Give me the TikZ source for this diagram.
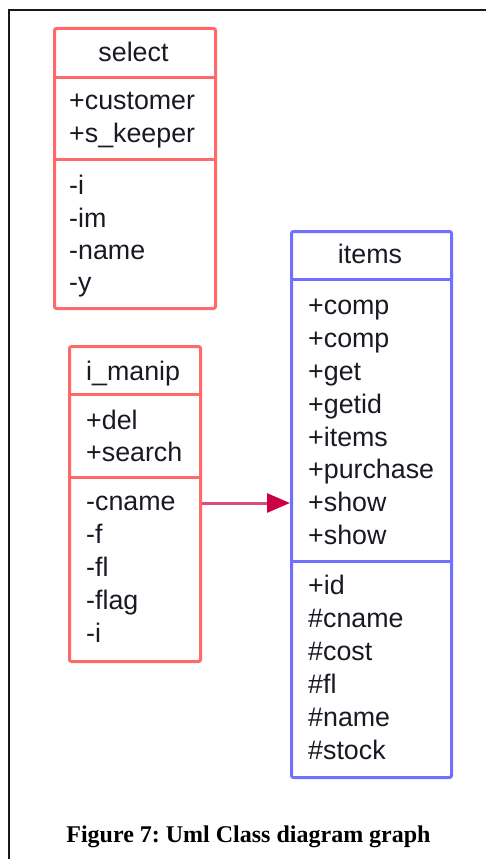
\documentclass[tikz,border=0pt]{standalone}
\usepackage{fontspec}
\setmainfont{Liberation Sans}
\newfontfamily\capfont{Liberation Serif}
\usetikzlibrary{arrows.meta}
\definecolor{boxred}{RGB}{255,105,105}
\definecolor{boxblue}{RGB}{112,112,255}
\definecolor{arrline}{RGB}{214,80,120}
\definecolor{arrhead}{RGB}{204,0,68}
\definecolor{txt}{RGB}{25,25,35}
\frenchspacing
\begin{document}
\begin{tikzpicture}[x=1pt,y=-1pt,
  redbox/.style={draw=boxred,line width=3pt,rounded corners=2pt,inner sep=0pt,anchor=north west},
  bluebox/.style={draw=boxblue,line width=3pt,rounded corners=2pt,inner sep=0pt,anchor=north west},
  redsep/.style={draw=boxred,line width=3pt},
  bluesep/.style={draw=boxblue,line width=3pt},
  member/.style={anchor=base west,yshift=-7pt,inner sep=0pt,text=txt,font=\fontsize{26.8}{30}\selectfont},
  title/.style={anchor=base,yshift=-7pt,inner sep=0pt,text=txt,font=\fontsize{26.8}{30}\selectfont},
  assoc/.style={draw=arrline,line width=3pt,-{Triangle[length=23pt,width=19pt,color=arrhead]}}
]
\useasboundingbox (0,0) rectangle (485,859);
% outer frame (cut by the image edges)
\draw[line width=2.2pt,black!90] (9,870) -- (9,10) -- (495,10);

% ---- select ----
\node[redbox,minimum width=161pt,minimum height=280pt] (select) at (53,27) {};
\draw[redsep] (53,77) -- (214,77);
\draw[redsep] (53,159) -- (214,159);
\node[title] (selT) at (133.5,55) {select};
\node[member] (s1) at (69,102) {+customer};
\node[member] (s2) at (69,135) {+s\_keeper};
\node[member] (s3) at (69,187) {-i};
\node[member] (s4) at (69,220) {-im};
\node[member] (s5) at (69,252) {-name};
\node[member] (s6) at (69,284) {-y};

% ---- i_manip ----
\node[redbox,minimum width=131pt,minimum height=315pt] (imanip) at (68,345) {};
\draw[redsep] (68,394) -- (199,394);
\draw[redsep] (68,477) -- (199,477);
\node[member] (mT) at (86,373) {i\_manip};
\node[member] (m1) at (86,422) {+del};
\node[member] (m2) at (86,454) {+search};
\node[member] (m3) at (86,503) {-cname};
\node[member] (m4) at (86,536) {-f};
\node[member] (m5) at (86,569) {-fl};
\node[member] (m6) at (86,602) {-flag};
\node[member] (m7) at (86,635) {-i};

% ---- items ----
\node[bluebox,minimum width=160pt,minimum height=546pt] (items) at (290,230) {};
\draw[bluesep] (290,279) -- (450,279);
\draw[bluesep] (290,561) -- (450,561);
\node[title] (iT) at (370,256) {items};
\node[member] (i1) at (308,307) {+comp};
\node[member] (i2) at (308,340) {+comp};
\node[member] (i3) at (308,373) {+get};
\node[member] (i4) at (308,406) {+getid};
\node[member] (i5) at (308,439) {+items};
\node[member] (i6) at (308,471) {+purchase};
\node[member] (i7) at (308,504) {+show};
\node[member] (i8) at (308,537) {+show};
\node[member] (i9) at (308,587) {+id};
\node[member] (i10) at (308,620) {\#cname};
\node[member] (i11) at (308,653) {\#cost};
\node[member] (i12) at (308,686) {\#fl};
\node[member] (i13) at (308,719) {\#name};
\node[member] (i14) at (308,752) {\#stock};

% association
\coordinate (arrY) at (0,503);
\draw[assoc] (imanip.east |- arrY) -- (items.west |- arrY);

% caption
\node[anchor=base,inner sep=0pt,font=\capfont\bfseries\fontsize{24}{28}\selectfont] (cap) at (248.5,842) {Figure 7: Uml Class diagram graph};
\end{tikzpicture}
\end{document}
